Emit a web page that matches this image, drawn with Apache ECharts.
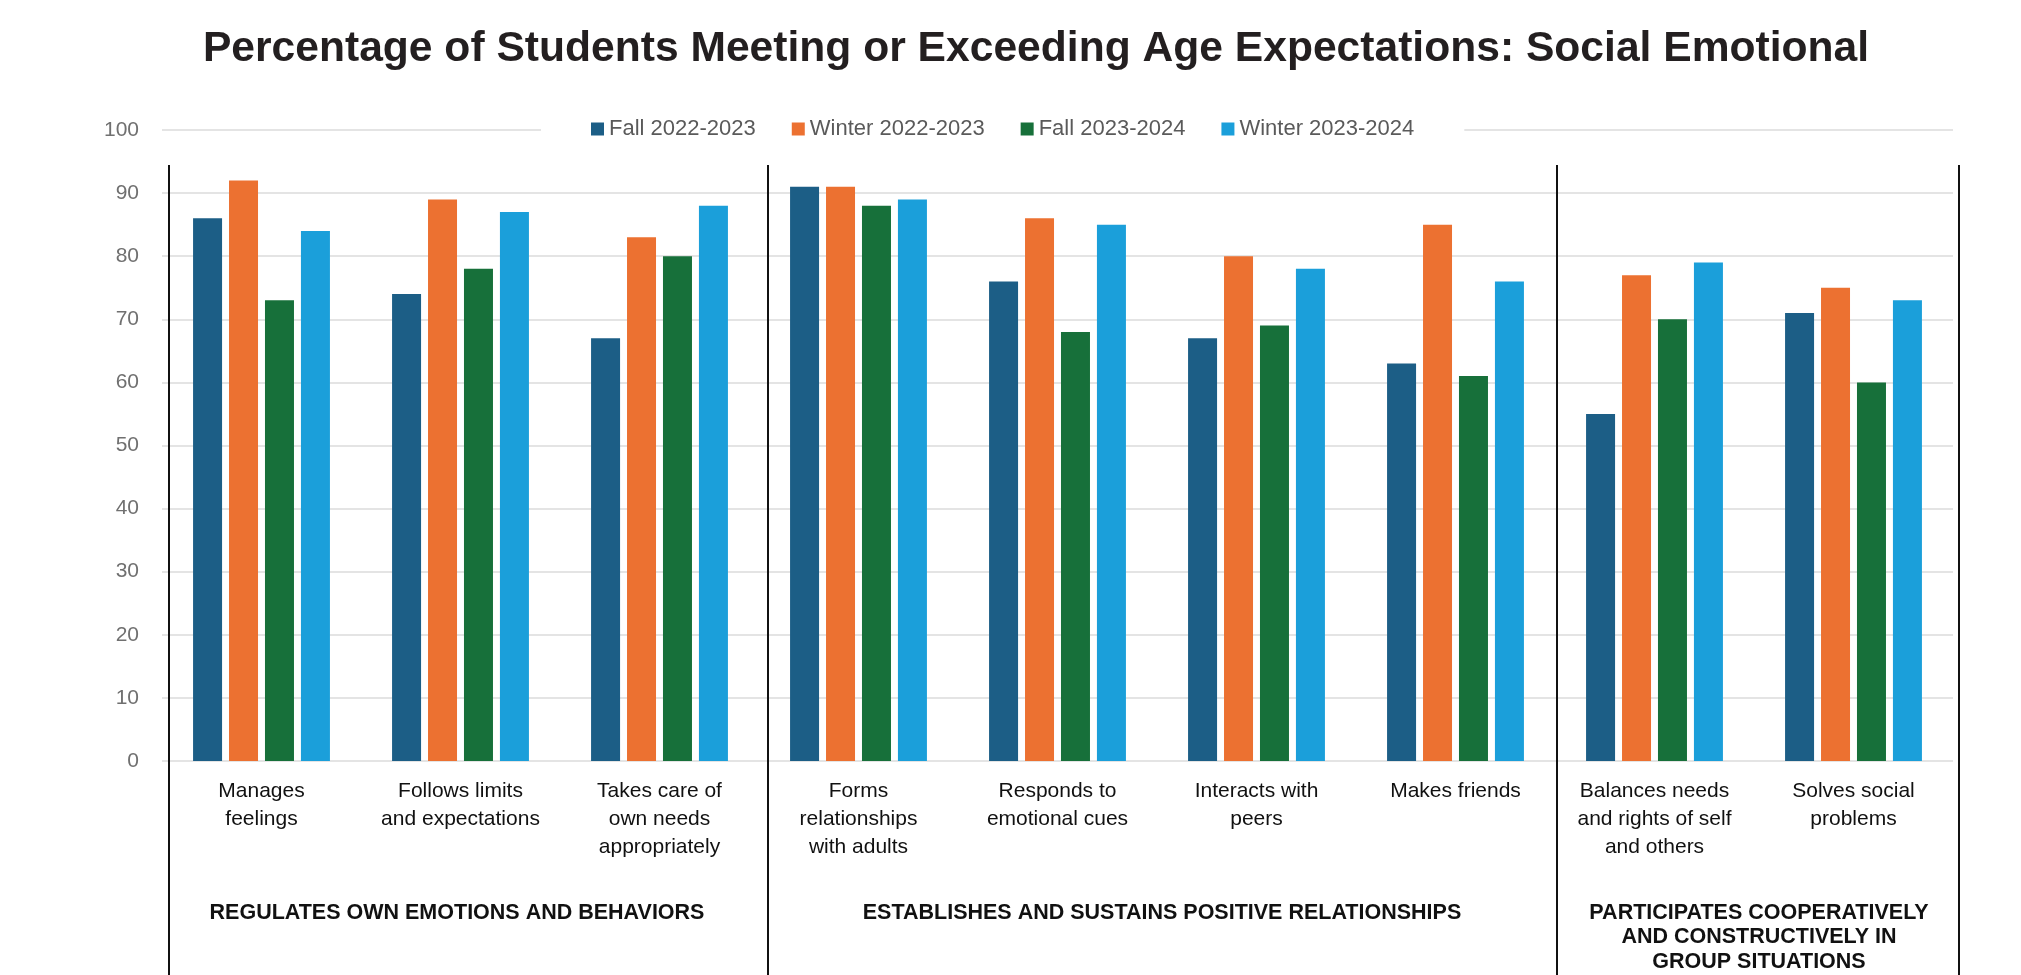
<!DOCTYPE html>
<html>
<head>
<meta charset="utf-8">
<title>Social Emotional</title>
<script src="https://cdn.jsdelivr.net/npm/echarts@6/dist/echarts.min.js"></script>
<style>
  html, body { margin: 0; padding: 0; background: #ffffff; }
  #chart { width: 2021px; height: 975px; }
</style>
</head>
<body>
<div id="chart"></div>
<script>
// Skill categories (x axis), in display order
const categories = [
  'Manages\nfeelings',
  'Follows limits\nand expectations',
  'Takes care of\nown needs\nappropriately',
  'Forms\nrelationships\nwith adults',
  'Responds to\nemotional cues',
  'Interacts with\npeers',
  'Makes friends',
  'Balances needs\nand rights of self\nand others',
  'Solves social\nproblems'
];

// Percentage of students meeting or exceeding expectations, per term
const seriesNames = ['Fall 2022-2023', 'Winter 2022-2023', 'Fall 2023-2024', 'Winter 2023-2024'];
const fall2223   = [86, 74, 67, 91, 76, 67, 63, 55, 71];
const winter2223 = [92, 89, 83, 91, 86, 80, 85, 77, 75];
const fall2324   = [73, 78, 80, 88, 68, 69, 61, 70, 60];
const winter2324 = [84, 87, 88, 89, 85, 78, 76, 79, 73];

// Domain headings shown beneath each block of skills
const groupLabels = [
  'REGULATES OWN EMOTIONS AND BEHAVIORS',
  'ESTABLISHES AND SUSTAINS POSITIVE RELATIONSHIPS',
  'PARTICIPATES COOPERATIVELY\nAND CONSTRUCTIVELY IN\nGROUP SITUATIONS'
];

const titleText = 'Percentage of Students Meeting or Exceeding Age Expectations: Social Emotional';

const colors = ['#1c5e86', '#ec7131', '#17703a', '#1b9fda'];
const seriesData = [fall2223, winter2223, fall2324, winter2324];

const chart = echarts.init(document.getElementById('chart'), null, { renderer: 'canvas' });

// Separator lines between domains and heading positions (pixels)
const dividerX = [169, 768, 1557, 1959];
const groupCenters = [457, 1162, 1759];

const graphics = [];
graphics.push({
  type: 'text', x: 1036, y: 49, z: 10,
  style: {
    text: titleText, fill: '#231f20',
    font: 'bold 42.6px "Liberation Sans", Arial, sans-serif',
    textAlign: 'center', textVerticalAlign: 'middle'
  }
});
dividerX.forEach(function (x) {
  graphics.push({
    type: 'line', z: 10,
    shape: { x1: x, y1: 165, x2: x, y2: 975 },
    style: { stroke: '#111111', lineWidth: 2 }
  });
});
// headings: first line centred at y = 913, 24.5px line spacing
groupLabels.forEach(function (t, i) {
  graphics.push({
    type: 'text', x: groupCenters[i], y: 913 - 12.25, z: 10,
    style: {
      text: t, fill: '#111111',
      font: 'bold 21.5px "Liberation Sans", Arial, sans-serif',
      lineHeight: 24.5,
      textAlign: 'center', textVerticalAlign: 'top'
    }
  });
});

const option = {
  animation: false,
  backgroundColor: '#ffffff',
  color: colors,
  legend: {
    data: seriesNames,
    left: 541,
    top: 114,
    itemWidth: 13,
    itemHeight: 13,
    itemGap: 36,
    icon: 'rect',
    padding: [4, 50],
    backgroundColor: '#ffffff',
    textStyle: { color: '#5a5a5a', fontSize: 22, fontFamily: '"Liberation Sans", Arial, sans-serif' },
    z: 5
  },
  grid: { left: 162, right: 68, top: 130, bottom: 214, containLabel: false },
  xAxis: {
    type: 'category',
    data: categories,
    axisLine: { show: false },
    axisTick: { show: false },
    axisLabel: {
      interval: 0,
      margin: 16,
      color: '#111111',
      fontSize: 21,
      lineHeight: 28,
      fontFamily: '"Liberation Sans", Arial, sans-serif',
      align: 'center'
    }
  },
  yAxis: {
    type: 'value',
    min: 0, max: 100, interval: 10,
    axisLine: { show: false },
    axisTick: { show: false },
    axisLabel: {
      margin: 23, color: '#707070', fontSize: 21,
      fontFamily: '"Liberation Sans", Arial, sans-serif'
    },
    splitLine: { lineStyle: { color: '#e4e4e4', width: 2 } }
  },
  graphic: graphics,
  series: seriesNames.map(function (name, i) {
    return {
      name: name,
      type: 'bar',
      data: seriesData[i],
      barWidth: 29,
      barGap: '24%',
      itemStyle: { color: colors[i] }
    };
  })
};

chart.setOption(option);
</script>
</body>
</html>
